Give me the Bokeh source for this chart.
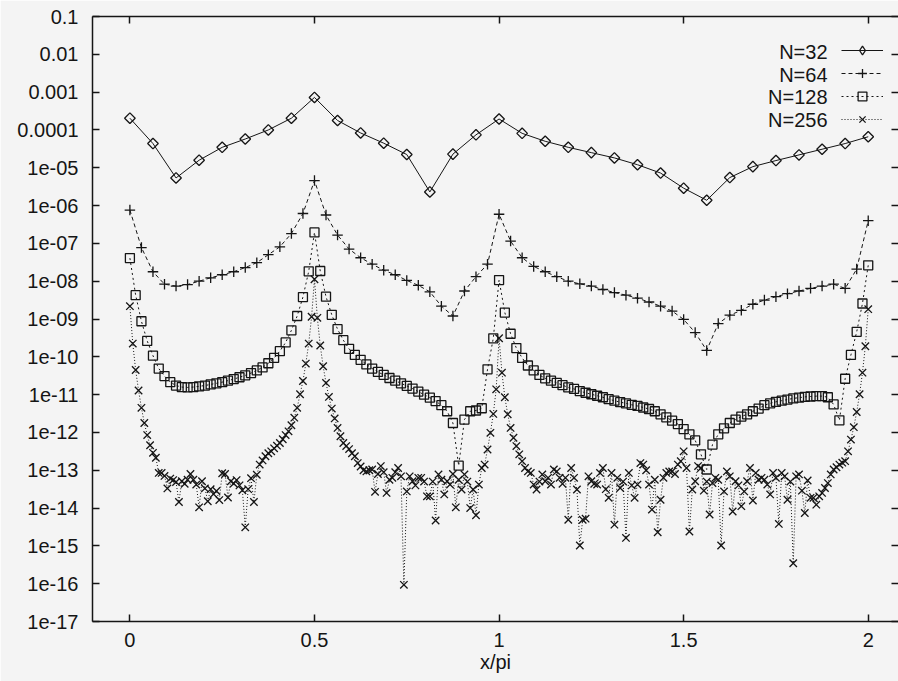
import numpy as np
from bokeh.plotting import figure
from bokeh.models import (FixedTicker, CustomJSTickFormatter, LogAxis, LinearAxis,
                          Legend, LegendItem, Label, Range1d)
from bokeh.core.properties import value
from bokeh.embed import file_html
from bokeh.resources import INLINE

# ---------------- data (log10 of the error) ----------------
series_labels = ["N=32", "N=64", "N=128", "N=256"]
grid_sizes = [32, 64, 128, 256]

log10_err_n32 = [
    -3.69, -4.36, -5.27, -4.80, -4.46, -4.24, -4.00, -3.69, -3.14, -3.75,
    -4.08, -4.35, -4.65, -5.64, -4.64, -4.13, -3.71, -4.09, -4.30, -4.46,
    -4.60, -4.74, -4.92, -5.14, -5.54, -5.86, -5.26, -4.97, -4.81, -4.66,
    -4.51, -4.36, -4.18]

log10_err_n64 = [
    -6.12, -7.11, -7.75, -8.08, -8.13, -8.09, -8.00, -7.91, -7.83, -7.75,
    -7.64, -7.51, -7.30, -7.09, -6.74, -6.21, -5.34, -6.25, -6.78, -7.15,
    -7.38, -7.55, -7.71, -7.83, -7.98, -8.11, -8.28, -8.66, -8.92, -8.26,
    -7.88, -7.55, -6.23, -6.94, -7.38, -7.61, -7.75, -7.88, -8.00, -8.07,
    -8.13, -8.22, -8.30, -8.37, -8.45, -8.55, -8.66, -8.79, -9.01, -9.36,
    -9.83, -9.12, -8.90, -8.77, -8.61, -8.50, -8.41, -8.33, -8.26, -8.19,
    -8.13, -8.08, -8.19, -7.68, -6.40]

log10_err_n128 = [
    -7.39, -8.37, -9.06, -9.58, -9.97, -10.31, -10.51, -10.67, -10.76, -10.80,
    -10.81, -10.80, -10.78, -10.76, -10.73, -10.70, -10.67, -10.63, -10.59, -10.54,
    -10.49, -10.43, -10.36, -10.28, -10.17, -10.03, -9.85, -9.62, -9.30, -8.92,
    -8.42, -7.74, -6.71, -7.73, -8.41, -8.89, -9.27, -9.56, -9.79, -9.95,
    -10.08, -10.20, -10.31, -10.40, -10.48, -10.56, -10.63, -10.70, -10.77, -10.84,
    -10.92, -11.00, -11.08, -11.17, -11.28, -11.44, -11.75, -12.88, -11.66, -11.44,
    -11.42, -11.36, -10.33, -9.51, -7.97, -8.83, -9.39, -9.77, -10.03, -10.23,
    -10.36, -10.48, -10.57, -10.63, -10.69, -10.75, -10.81, -10.85, -10.91, -10.95,
    -10.99, -11.03, -11.07, -11.12, -11.16, -11.20, -11.23, -11.27, -11.30, -11.34,
    -11.38, -11.44, -11.52, -11.60, -11.69, -11.78, -11.91, -12.05, -12.21, -12.58,
    -12.98, -12.32, -12.05, -11.89, -11.75, -11.66, -11.58, -11.52, -11.44, -11.37,
    -11.28, -11.23, -11.19, -11.16, -11.13, -11.10, -11.08, -11.06, -11.05, -11.04,
    -11.04, -11.07, -11.26, -11.68, -10.58, -9.95, -9.34, -8.59, -7.58]

log10_err_n256 = [
    -8.66, -9.65, -10.35, -10.89, -11.35, -11.75, -12.07, -12.34, -12.54, -12.67,
    -13.07, -13.07, -13.15, -13.48, -13.22, -13.26, -13.31, -13.84, -13.29, -13.36,
    -13.25, -13.10, -13.25, -13.38, -13.98, -13.29, -13.48, -13.82, -13.50, -13.63,
    -13.55, -13.79, -13.08, -13.10, -13.72, -13.29, -13.35, -13.26, -13.40, -13.53,
    -14.51, -13.50, -13.21, -13.84, -13.12, -12.85, -12.74, -12.63, -12.55, -12.50,
    -12.42, -12.35, -12.28, -12.18, -12.07, -11.97, -11.81, -11.61, -11.35, -10.99,
    -10.64, -10.18, -9.65, -8.94, -7.95, -8.97, -9.70, -10.25, -10.69, -11.06,
    -11.37, -11.63, -11.88, -12.10, -12.28, -12.36, -12.44, -12.55, -12.63, -12.81,
    -12.90, -13.00, -13.03, -13.00, -12.98, -13.57, -13.10, -12.89, -13.05, -13.60,
    -13.25, -13.20, -13.05, -12.94, -13.16, -16.03, -13.56, -13.16, -13.29, -13.40,
    -13.20, -13.20, -13.30, -13.69, -13.69, -13.30, -14.33, -13.11, -13.25, -13.64,
    -13.29, -13.38, -13.10, -13.98, -13.25, -13.51, -13.11, -13.30, -14.00, -13.51,
    -14.19, -13.38, -12.94, -12.85, -12.45, -12.01, -11.51, -10.86, -9.51, -10.42,
    -11.07, -11.52, -11.88, -12.14, -12.36, -12.58, -12.76, -12.94, -13.03, -13.07,
    -13.38, -13.51, -13.30, -13.11, -13.29, -13.20, -13.38, -12.98, -13.03, -13.20,
    -13.36, -13.20, -14.31, -12.94, -13.20, -13.51, -14.99, -14.31, -14.28, -13.16,
    -13.29, -13.36, -13.38, -13.07, -12.94, -13.50, -13.73, -13.07, -14.44, -13.20,
    -13.47, -13.30, -14.79, -13.07, -13.40, -13.73, -13.38, -12.81, -12.85, -13.00,
    -13.38, -14.04, -13.25, -14.64, -13.78, -13.20, -13.07, -13.03, -13.03, -13.10,
    -12.85, -12.76, -12.50, -12.94, -14.62, -13.51, -13.29, -12.89, -12.94, -13.54,
    -13.30, -14.17, -13.34, -13.20, -13.25, -14.99, -13.56, -13.03, -13.16, -14.09,
    -13.29, -13.40, -13.95, -13.56, -13.29, -12.94, -13.80, -13.07, -13.25, -13.20,
    -13.25, -13.38, -13.64, -13.07, -13.20, -14.42, -13.07, -13.16, -13.78, -13.30,
    -15.46, -13.16, -13.11, -13.54, -14.13, -13.27, -13.73, -13.73, -13.91, -13.69,
    -13.60, -13.47, -13.34, -13.11, -12.98, -12.92, -12.85, -12.80, -12.76, -12.50,
    -12.19, -11.86, -11.46, -10.99, -10.42, -9.72, -8.74]

x_ticks = [0, 0.5, 1, 1.5, 2]
y_tick_exponents = list(range(-17, 0))
y_tick_labels = ["1e-17", "1e-16", "1e-15", "1e-14", "1e-13", "1e-12", "1e-11",
                 "1e-10", "1e-09", "1e-08", "1e-07", "1e-06", "1e-05",
                 "0.0001", "0.001", "0.01", "0.1"]
x_label = "x/pi"

# ---------------- styling ----------------
BG = "#f4f4f4"
INK = "#151515"
FONT = "Liberation Sans"
FS = "20px"

p = figure(width=898, height=681,
           x_range=Range1d(-0.1013, 2.082), y_range=Range1d(1e-17, 0.1),
           y_axis_type="log", output_backend="svg", toolbar_location=None,
           min_border_left=92, min_border_top=16, min_border_right=0,
           min_border_bottom=60,
           background_fill_color=BG, border_fill_color=BG,
           outline_line_color=None)
p.grid.visible = False

decades = [10.0 ** e for e in y_tick_exponents]

xa = p.xaxis[0]
ya = p.yaxis[0]
xa.ticker = FixedTicker(ticks=x_ticks)
ya.ticker = FixedTicker(ticks=decades)
ya.formatter = CustomJSTickFormatter(
    args=dict(exps=y_tick_exponents, labels=y_tick_labels),
    code="""
const e = Math.round(Math.log10(tick));
const i = exps.indexOf(e);
return i >= 0 ? labels[i] : "";
""")
xa.axis_label = x_label

for ax in (xa, ya):
    ax.major_tick_in = 7
    ax.major_tick_out = 0
    ax.minor_tick_in = 0
    ax.minor_tick_out = 0
    ax.axis_line_color = INK
    ax.axis_line_width = 1.5
    ax.major_tick_line_color = INK
    ax.major_tick_line_width = 1.5
    ax.major_label_text_font = FONT
    ax.major_label_text_font_size = FS
    ax.major_label_text_color = INK
xa.major_label_standoff = 11
ya.major_label_standoff = 14
xa.axis_label_standoff = 1
xa.axis_label_text_font = FONT
xa.axis_label_text_font_size = FS
xa.axis_label_text_font_style = "normal"
xa.axis_label_text_color = INK

top_axis = LinearAxis(ticker=FixedTicker(ticks=x_ticks),
                      major_tick_in=7, major_tick_out=0,
                      minor_tick_in=0, minor_tick_out=0,
                      axis_line_color=INK, axis_line_width=1.5,
                      major_tick_line_color=INK, major_tick_line_width=1.5,
                      major_label_text_color=None,
                      major_label_text_font_size="1px",
                      major_label_standoff=0)
p.add_layout(top_axis, "above")

right_axis = LogAxis(ticker=FixedTicker(ticks=decades),
                     major_tick_in=7, major_tick_out=0,
                     minor_tick_in=0, minor_tick_out=0,
                     axis_line_color=None,
                     major_tick_line_color=INK, major_tick_line_width=1.5,
                     major_label_text_color=None,
                     major_label_text_font_size="1px",
                     major_label_standoff=0)
p.add_layout(right_axis, "right")

# ---------------- series ----------------
all_logs = [log10_err_n32, log10_err_n64, log10_err_n128, log10_err_n256]
dashes = ["solid", "4 3", "2 3", "1 2"]
markers = [dict(marker="square", angle=np.pi / 4, size=7.5),
           dict(marker="cross", size=10.5),
           dict(marker="square", size=9),
           dict(marker="x", size=10.5)]

items = []
for i, (n, logs, dash, mk) in enumerate(zip(grid_sizes, all_logs, dashes, markers)):
    xs = np.linspace(0.0, 2.0, n + 1)
    ys = 10.0 ** np.array(logs)
    rl = p.line(xs, ys, line_color=INK, line_width=1, line_dash=dash)
    rm = p.scatter(xs, ys, line_color=INK, line_width=1.3, fill_color=None, **mk)
    if i == 0:
        # the key cannot rotate a square, so it uses a hidden diamond renderer
        rk = p.scatter(xs, ys, marker="diamond", size=11.5, line_color=INK,
                       line_width=1.3, fill_color=None, visible=False)
        items.append(LegendItem(label=value(""), renderers=[rl, rk]))
    else:
        items.append(LegendItem(label=value(""), renderers=[rl, rm]))

legend = Legend(items=items, location=(749, 491), orientation="vertical",
                glyph_width=42, glyph_height=22, label_width=0, label_height=22,
                label_standoff=0, spacing=1, padding=0, margin=0,
                border_line_color=None, background_fill_alpha=0,
                inactive_fill_alpha=0, click_policy="none",
                label_text_font_size="1px")
p.add_layout(legend)

label_rows = [570, 547, 525, 502]
for lab, yy in zip(series_labels, label_rows):
    p.add_layout(Label(x=735, y=yy, x_units="screen", y_units="screen", text=lab,
                       text_align="right", text_baseline="middle",
                       text_font=FONT, text_font_size=FS, text_color=INK))

open("out.html", "w").write(file_html(p, INLINE))
